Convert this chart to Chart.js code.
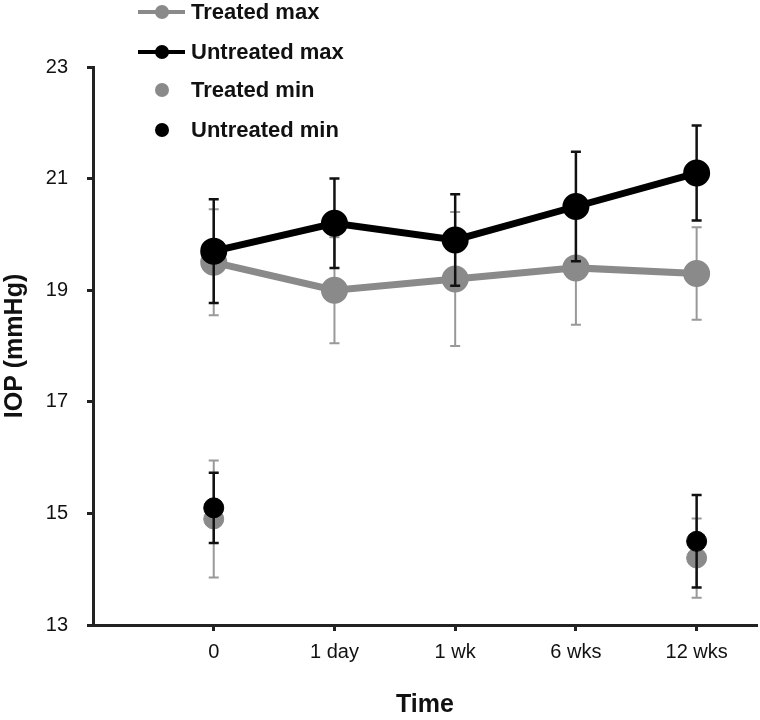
<!DOCTYPE html>
<html>
<head>
<meta charset="utf-8">
<title>IOP over time</title>
<script src="https://cdn.jsdelivr.net/npm/chart.js@4.4.1/dist/chart.umd.min.js"></script>
<style>
  body { margin: 0; background: #fff; }
  #chart { display: block; }
</style>
</head>
<body>
<canvas id="chart" width="760" height="720"></canvas>
<script>
// time points along the x axis
const timeLabels = ['0', '1 day', '1 wk', '6 wks', '12 wks'];
const yTicks = [13, 15, 17, 19, 21, 23];

// mean IOP (mmHg), null where there is no measurement
const treatedMax = [19.5, 19.0, 19.2, 19.4, 19.3];
const untreatedMax = [19.7, 20.2, 19.9, 20.5, 21.1];
const treatedMin = [14.9, null, null, null, 14.2];
const untreatedMin = [15.1, null, null, null, 14.5];

// error bars (+/-)
const treatedMaxErr = [0.95, 0.95, 1.2, 1.02, 0.83];
const untreatedMaxErr = [0.93, 0.8, 0.82, 0.98, 0.85];
const treatedMinErr = [1.05, null, null, null, 0.71];
const untreatedMinErr = [0.63, null, null, null, 0.83];

const GREY = '#8a8a8a';
const BLACK = '#000000';
const FONT = '"Liberation Sans", Arial, Helvetica, sans-serif';

function toPoints(values, errs) {
    return values
        .map((v, i) => v === null ? null : {x: i, y: v, err: errs[i]})
        .filter(p => p !== null);
}

// draws the error bars of a dataset right before the dataset itself
const errorBars = {
    id: 'errorBars',
    beforeDatasetDraw(chart, args) {
        const ds = chart.data.datasets[args.index];
        const yScale = chart.scales.y;
        const ctx = chart.ctx;
        ctx.save();
        ctx.strokeStyle = ds.errorColor;
        ctx.lineWidth = ds.errorWidth;
        args.meta.data.forEach((pt, j) => {
            const raw = ds.data[j];
            const top = yScale.getPixelForValue(raw.y + raw.err);
            const bot = yScale.getPixelForValue(raw.y - raw.err);
            ctx.beginPath();
            ctx.moveTo(pt.x, top);
            ctx.lineTo(pt.x, bot);
            ctx.moveTo(pt.x - 5, top);
            ctx.lineTo(pt.x + 5, top);
            ctx.moveTo(pt.x - 5, bot);
            ctx.lineTo(pt.x + 5, bot);
            ctx.stroke();
        });
        ctx.restore();
    }
};

// legend stacked in the top left corner, partly over the plot
const sideLegend = {
    id: 'sideLegend',
    afterDraw(chart, args, opts) {
        const ctx = chart.ctx;
        ctx.save();
        chart.data.datasets.forEach((ds, i) => {
            const y = opts.rows[i];
            if (ds.showLine !== false) {
                ctx.strokeStyle = ds.borderColor;
                ctx.lineWidth = 4;
                ctx.beginPath();
                ctx.moveTo(opts.lineFrom, y);
                ctx.lineTo(opts.lineTo, y);
                ctx.stroke();
            }
            ctx.fillStyle = ds.pointBackgroundColor;
            ctx.beginPath();
            ctx.arc(opts.markerX, y, 7, 0, Math.PI * 2);
            ctx.fill();
            ctx.fillStyle = '#111';
            ctx.font = 'bold 22px ' + FONT;
            ctx.textBaseline = 'middle';
            ctx.fillText(ds.label, opts.textX, y + 1);
        });
        ctx.restore();
    }
};

const ctx = document.getElementById('chart').getContext('2d');
const chart = new Chart(ctx, {
    type: 'line',
    data: {
        datasets: [
            {
                label: 'Treated max',
                data: toPoints(treatedMax, treatedMaxErr),
                borderColor: GREY,
                pointBackgroundColor: GREY,
                pointBorderColor: GREY,
                borderWidth: 7,
                pointRadius: 10,
                errorColor: '#999999',
                errorWidth: 2,
                order: 1
            },
            {
                label: 'Untreated max',
                data: toPoints(untreatedMax, untreatedMaxErr),
                borderColor: BLACK,
                pointBackgroundColor: BLACK,
                pointBorderColor: BLACK,
                borderWidth: 7,
                pointRadius: 10,
                errorColor: '#111111',
                errorWidth: 2.5,
                order: 0
            },
            {
                label: 'Treated min',
                data: toPoints(treatedMin, treatedMinErr),
                borderColor: GREY,
                pointBackgroundColor: GREY,
                pointBorderColor: GREY,
                showLine: false,
                pointRadius: 10,
                errorColor: '#999999',
                errorWidth: 2,
                order: 1
            },
            {
                label: 'Untreated min',
                data: toPoints(untreatedMin, untreatedMinErr),
                borderColor: BLACK,
                pointBackgroundColor: BLACK,
                pointBorderColor: BLACK,
                showLine: false,
                pointRadius: 10,
                errorColor: '#111111',
                errorWidth: 2.5,
                order: 0
            }
        ]
    },
    options: {
        responsive: false,
        animation: false,
        clip: false,
        layout: {
            autoPadding: false,
            padding: {top: 67, right: 3, left: 0, bottom: 0}
        },
        plugins: {
            legend: {display: false},
            tooltip: {enabled: false},
            sideLegend: {
                rows: [12, 52, 90, 130],
                lineFrom: 138,
                lineTo: 185,
                markerX: 162,
                textX: 191
            }
        },
        scales: {
            x: {
                type: 'linear',
                min: -1,
                max: 4.5,
                afterBuildTicks: s => {
                    s.ticks = timeLabels.map((_, i) => ({value: i}));
                },
                afterFit: s => {
                    s.height = 95;
                    s.paddingLeft = 0;
                    s.paddingRight = 0;
                },
                border: {color: '#222', width: 3},
                grid: {
                    drawOnChartArea: false,
                    tickLength: 6,
                    tickWidth: 3,
                    tickColor: '#222'
                },
                ticks: {
                    padding: 9,
                    color: '#111',
                    font: {family: FONT, size: 20},
                    callback: v => timeLabels[v]
                },
                title: {
                    display: true,
                    text: 'Time',
                    color: '#111',
                    font: {family: FONT, size: 25, weight: 'bold'},
                    padding: {top: 0, bottom: 0}
                }
            },
            y: {
                min: 13,
                max: 23,
                afterBuildTicks: s => {
                    s.ticks = yTicks.map(v => ({value: v}));
                },
                afterFit: s => { s.width = 93; },
                border: {color: '#222', width: 3},
                grid: {
                    drawOnChartArea: false,
                    tickLength: 6,
                    tickWidth: 3,
                    tickColor: '#222'
                },
                ticks: {
                    padding: 19,
                    color: '#111',
                    font: {family: FONT, size: 20}
                },
                title: {
                    display: true,
                    text: 'IOP (mmHg)',
                    color: '#111',
                    font: {family: FONT, size: 25, weight: 'bold'},
                    padding: {top: 0, bottom: 0}
                }
            }
        }
    },
    plugins: [errorBars, sideLegend]
});
</script>
</body>
</html>
